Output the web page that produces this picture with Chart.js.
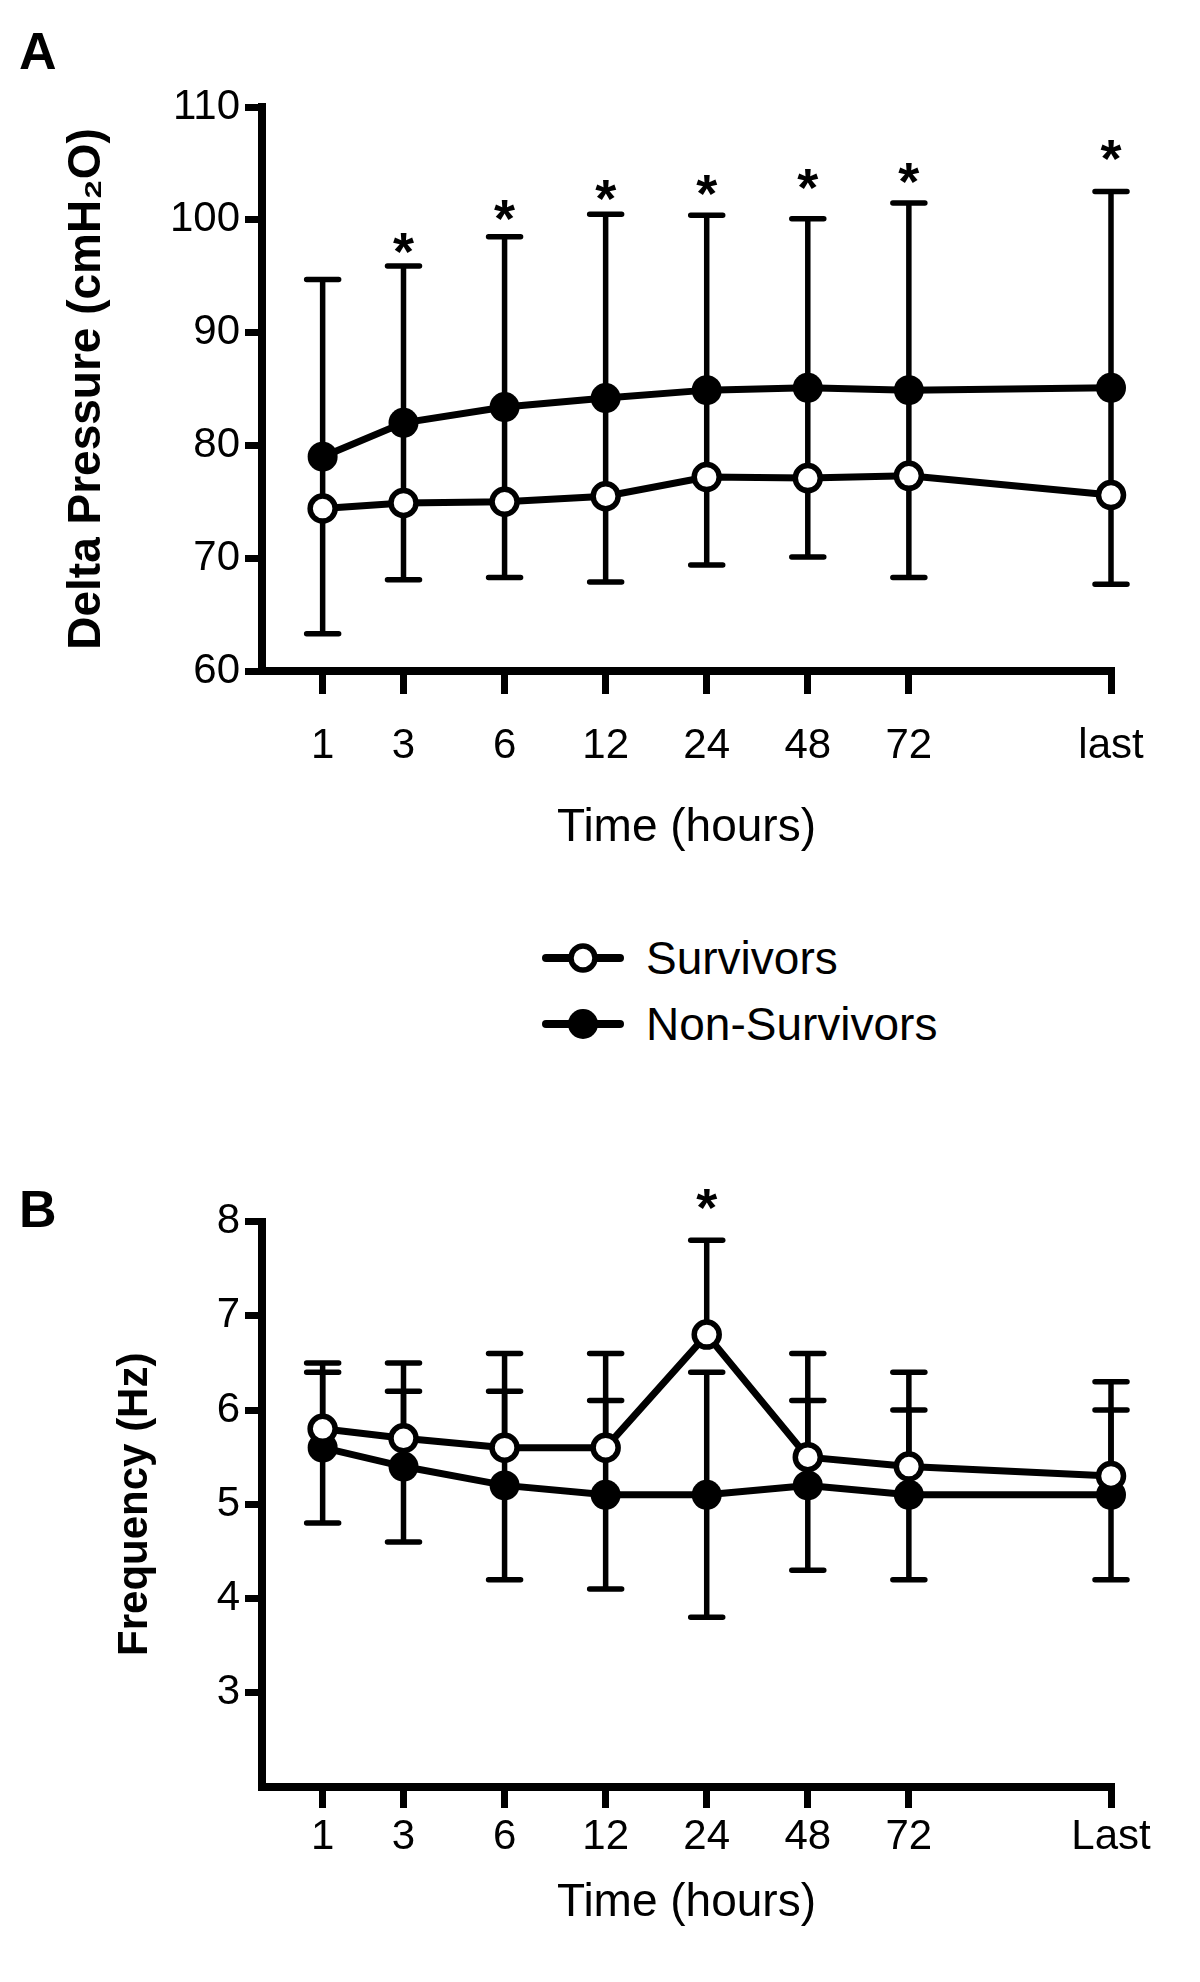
<!DOCTYPE html>
<html>
<head>
<meta charset="utf-8">
<title>Delta Pressure and Frequency over time</title>
<script src="https://cdn.jsdelivr.net/npm/chart.js@4.4.1/dist/chart.umd.min.js"></script>
<style>
  body { margin: 0; background: #fff; }
  #page { position: relative; width: 1200px; height: 1982px; font-family: 'Liberation Sans', Arial, sans-serif; color: #000; }
  canvas { position: absolute; left: 0; }
  .panel { position: absolute; left: 19px; font-weight: bold; font-size: 52px; line-height: 52px; }
  .leg { position: absolute; left: 540px; height: 60px; display: flex; align-items: center; font-size: 46px; }
  .leg svg { margin-right: 20px; }
</style>
</head>
<body>
<div id="page">
  <div class="panel" style="top:25px">A</div>
  <canvas id="chartA" width="1200" height="900" style="top:0"></canvas>

  <div class="leg" style="top:928px">
    <svg width="86" height="36"><line x1="6" y1="18" x2="80" y2="18" stroke="#000" stroke-width="8" stroke-linecap="round"/><circle cx="43" cy="18" r="12" fill="#fff" stroke="#000" stroke-width="5.5"/></svg>
    <span>Survivors</span>
  </div>
  <div class="leg" style="top:994px">
    <svg width="86" height="36"><line x1="6" y1="18" x2="80" y2="18" stroke="#000" stroke-width="8" stroke-linecap="round"/><circle cx="43" cy="18" r="15" fill="#000"/></svg>
    <span>Non-Survivors</span>
  </div>

  <div class="panel" style="top:1183px">B</div>
  <canvas id="chartB" width="1200" height="832" style="top:1150px"></canvas>
</div>

<script>
// time points (x positions follow the uneven spacing of the original axis)
const timeLabelsA = ['1', '3', '6', '12', '24', '48', '72', 'last'];
const timeLabelsB = ['1', '3', '6', '12', '24', '48', '72', 'Last'];
const timePos = [1, 1.8, 2.8, 3.8, 4.8, 5.8, 6.8, 8.8];

// panel A - delta pressure (cmH2O)
const survA = [74.4, 74.9, 75.0, 75.5, 77.2, 77.1, 77.3, 75.6];
const nonSurvA = [79.0, 82.0, 83.4, 84.2, 84.9, 85.1, 84.9, 85.1];
const nonSurvSdA = [15.7, 13.9, 15.1, 16.3, 15.5, 15.0, 16.6, 17.4];
const starA = [null, 98.2, 101.2, 102.9, 103.4, 103.9, 104.4, 106.5];
const yTicksA = [60, 70, 80, 90, 100, 110];

// panel B - frequency (Hz)
const survB = [5.8, 5.7, 5.6, 5.6, 6.8, 5.5, 5.4, 5.3];
const survSdB = [0.7, 0.8, 1.0, 1.0, 1.0, 1.1, 1.0, 1.0];
const nonSurvB = [5.6, 5.4, 5.2, 5.1, 5.1, 5.2, 5.1, 5.1];
const nonSurvSdB = [0.8, 0.8, 1.0, 1.0, 1.3, 0.9, 0.9, 0.9];
const starB = [null, null, null, null, 8.27, null, null, null];
const yTicksB = [3, 4, 5, 6, 7, 8];

Chart.defaults.font.family = "'Liberation Sans', Arial, sans-serif";
Chart.defaults.color = '#000';

const toPoints = vals => timePos.map((t, i) => ({x: t, y: vals[i]}));

// SD whiskers with caps, drawn under the lines and markers
const errorBars = {
    id: 'errorBars',
    beforeDatasetsDraw(chart, args, opts) {
        const {ctx, scales: {x, y}} = chart;
        ctx.save();
        ctx.strokeStyle = '#000';
        ctx.lineWidth = 5.5;
        opts.bars.forEach(b => {
            b.mean.forEach((m, i) => {
                const px = x.getPixelForValue(timePos[i]);
                const mid = y.getPixelForValue(m);
                const hi = b.up ? y.getPixelForValue(m + b.up[i]) : mid;
                const lo = b.down ? y.getPixelForValue(m - b.down[i]) : mid;
                ctx.lineCap = 'butt';
                ctx.beginPath();
                ctx.moveTo(px, hi);
                ctx.lineTo(px, lo);
                ctx.stroke();
                ctx.lineCap = 'round';
                ctx.beginPath();
                if (b.up) { ctx.moveTo(px - 16, hi); ctx.lineTo(px + 16, hi); }
                if (b.down) { ctx.moveTo(px - 16, lo); ctx.lineTo(px + 16, lo); }
                ctx.stroke();
            });
        });
        ctx.restore();
    }
};

// significance asterisks
const stars = {
    id: 'stars',
    afterDatasetsDraw(chart, args, opts) {
        const {ctx, scales: {x, y}} = chart;
        const size = 54;
        ctx.save();
        ctx.font = 'bold ' + size + 'px "Liberation Sans", Arial, sans-serif';
        ctx.textAlign = 'center';
        ctx.textBaseline = 'alphabetic';
        ctx.fillStyle = '#000';
        opts.values.forEach((v, i) => {
            if (v === null) return;
            ctx.fillText('*', x.getPixelForValue(timePos[i]), y.getPixelForValue(v) + size * 0.56);
        });
        ctx.restore();
    }
};

function makeChart(id, cfg) {
    const seriesStyle = {
        borderColor: '#000',
        borderWidth: 7,
        tension: 0,
        clip: false,
        pointBorderColor: '#000',
    };
    return new Chart(document.getElementById(id), {
        type: 'line',
        data: {
            datasets: [
                Object.assign({}, seriesStyle, {
                    label: 'Survivors',
                    data: toPoints(cfg.surv),
                    pointRadius: 12.5,
                    pointBorderWidth: 5.5,
                    pointBackgroundColor: '#fff',
                }),
                Object.assign({}, seriesStyle, {
                    label: 'Non-Survivors',
                    data: toPoints(cfg.nonSurv),
                    pointRadius: 15,
                    pointBorderWidth: 0,
                    pointBackgroundColor: '#000',
                }),
            ],
        },
        options: {
            responsive: false,
            animation: false,
            devicePixelRatio: 1,
            layout: {padding: cfg.padding},
            plugins: {
                legend: {display: false},
                tooltip: {enabled: false},
                errorBars: {bars: cfg.bars},
                stars: {values: cfg.stars},
            },
            scales: {
                x: {
                    type: 'linear',
                    min: 0.4,
                    max: 8.8,
                    afterBuildTicks: s => { s.ticks = timePos.map(v => ({value: v})); },
                    afterFit: s => { s.height = cfg.xHeight; },
                    ticks: {
                        callback: (v, i) => cfg.labels[i],
                        autoSkip: false,
                        maxRotation: 0,
                        font: {size: 42},
                        padding: cfg.xPad,
                    },
                    grid: {drawOnChartArea: false, tickLength: cfg.xTick, tickWidth: 7, lineWidth: 7, tickColor: '#000'},
                    border: {width: 8, color: '#000'},
                    title: {display: true, text: 'Time (hours)', font: {size: 46}, padding: 0},
                },
                y: {
                    min: cfg.yMin,
                    max: cfg.yMax,
                    afterBuildTicks: s => { s.ticks = cfg.yTicks.map(v => ({value: v})); },
                    afterFit: s => { s.width = 262; },
                    ticks: {font: {size: 42}, padding: 5},
                    grid: {drawOnChartArea: false, tickLength: 17, tickWidth: 7, lineWidth: 7, tickColor: '#000'},
                    border: {width: 8, color: '#000'},
                    title: {display: true, text: cfg.yTitle, font: {size: cfg.yTitleSize, weight: 'bold'}, padding: {top: cfg.yTitlePad, bottom: 0}},
                },
            },
        },
        plugins: [errorBars, stars],
    });
}

makeChart('chartA', {
    surv: survA,
    nonSurv: nonSurvA,
    labels: timeLabelsA,
    bars: [{mean: nonSurvA, up: nonSurvSdA, down: nonSurvSdA}],
    stars: starA,
    yTicks: yTicksA,
    yMin: 60,
    yMax: 110,
    yTitle: 'Delta Pressure (cmH\u2082O)',
    yTitleSize: 46,
    yTitlePad: 60,
    xHeight: 185,
    xPad: 27,
    xTick: 23,
    padding: {left: 0, top: 107, right: 89, bottom: 44},
});

makeChart('chartB', {
    surv: survB,
    nonSurv: nonSurvB,
    labels: timeLabelsB,
    bars: [{mean: nonSurvB, up: nonSurvSdB, down: nonSurvSdB}, {mean: survB, up: survSdB}],
    stars: starB,
    yTicks: yTicksB,
    yMin: 2,
    yMax: 8,
    yTitle: 'Frequency (Hz)',
    yTitleSize: 42,
    yTitlePad: 110,
    xHeight: 144,
    xPad: 4,
    xTick: 21,
    padding: {left: 0, top: 71.5, right: 89, bottom: 51},
});
</script>
</body>
</html>
